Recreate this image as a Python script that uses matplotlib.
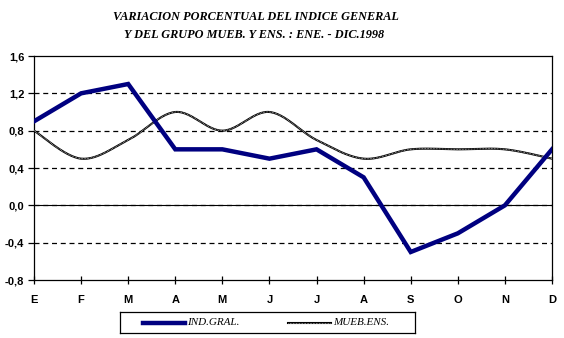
import numpy as np
import matplotlib.pyplot as plt

months = ['E', 'F', 'M', 'A', 'M', 'J', 'J', 'A', 'S', 'O', 'N', 'D']
ind_gral = [0.9, 1.2, 1.3, 0.6, 0.6, 0.5, 0.6, 0.3, -0.5, -0.3, 0.0, 0.6]
mueb_ens = [0.8, 0.5, 0.7, 1.0, 0.8, 1.0, 0.7, 0.5, 0.6, 0.6, 0.6, 0.5]
yticks = [-0.8, -0.4, 0.0, 0.4, 0.8, 1.2, 1.6]
ylabels = ['-0,8', '-0,4', '0,0', '0,4', '0,8', '1,2', '1,6']

navy = '#000080'


def smooth(x, y, n=30):
    # bezier smoothing like the spreadsheet "smoothed line" option
    x = np.asarray(x, float)
    y = np.asarray(y, float)
    px = np.concatenate([[x[0]], x, [x[-1]]])
    py = np.concatenate([[y[0]], y, [y[-1]]])
    xs, ys = [], []
    t = np.linspace(0, 1, n)
    for i in range(len(x) - 1):
        p0 = np.array([px[i + 1], py[i + 1]])
        p3 = np.array([px[i + 2], py[i + 2]])
        c1 = p0 + (np.array([px[i + 2], py[i + 2]]) - np.array([px[i], py[i]])) / 6
        c2 = p3 - (np.array([px[i + 3], py[i + 3]]) - np.array([px[i + 1], py[i + 1]])) / 6
        b = ((1 - t) ** 3)[:, None] * p0 + (3 * (1 - t) ** 2 * t)[:, None] * c1 \
            + (3 * (1 - t) * t ** 2)[:, None] * c2 + (t ** 3)[:, None] * p3
        xs.extend(b[:, 0])
        ys.extend(b[:, 1])
    return np.array(xs), np.array(ys)


fig = plt.figure(figsize=(5.64, 3.38), dpi=100)
ax = fig.add_axes([34 / 564, 1 - 280 / 338, 518 / 564, 224 / 338])

x = np.arange(len(months))
for v in [-0.4, 0.0, 0.4, 0.8, 1.2]:
    ax.axhline(v, color='black', lw=0.9, ls=(0, (4, 3)), zorder=1)
ax.axhline(0.0, color='black', lw=0.8, zorder=1)

sx, sy = smooth(x, mueb_ens)
ax.plot(sx, sy, color='black', lw=1.5, zorder=2)
ax.plot(sx, sy, color='white', lw=0.5, ls=(0, (1, 1.2)), zorder=3)
ax.plot(x, ind_gral, color=navy, lw=3.2, zorder=4, solid_joinstyle='miter')

ax.set_xlim(0, 11)
ax.set_ylim(-0.8, 1.6)
ax.set_xticks(x)
ax.set_xticklabels(months, fontfamily='Liberation Sans', fontweight='bold', fontsize=8)
ax.set_yticks(yticks)
ax.set_yticklabels(ylabels, fontfamily='Liberation Sans', fontweight='bold', fontsize=8)
ax.tick_params(axis='x', direction='inout', length=6, width=0.9, pad=8)
ax.tick_params(axis='y', direction='out', length=4, width=0.9, pad=3)
for s in ax.spines.values():
    s.set_linewidth(0.9)

fig.text(256 / 564, 1 - 17 / 338, 'VARIACION PORCENTUAL DEL INDICE GENERAL',
         ha='center', va='center', fontfamily='Liberation Serif', fontweight='bold',
         fontstyle='italic', fontsize=8.8)
fig.text(254 / 564, 1 - 35 / 338, 'Y DEL GRUPO MUEB. Y ENS. : ENE. - DIC.1998',
         ha='center', va='center', fontfamily='Liberation Serif', fontweight='bold',
         fontstyle='italic', fontsize=8.8)

# legend box
lax = fig.add_axes([120 / 564, 1 - 333 / 338, 295 / 564, 21 / 338])
lax.set_xlim(0, 295)
lax.set_ylim(0, 21)
lax.set_xticks([])
lax.set_yticks([])
for s in lax.spines.values():
    s.set_linewidth(0.9)
lax.plot([23, 65], [10.5, 10.5], color=navy, lw=3.2)
lax.text(67, 10.5, 'IND.GRAL.', va='center', fontfamily='Liberation Serif',
         fontstyle='italic', fontsize=8)
lax.plot([168, 211], [10.5, 10.5], color='black', lw=1.5)
lax.plot([168, 211], [10.5, 10.5], color='white', lw=0.5, ls=(0, (1, 1.2)))
lax.text(213, 10.5, 'MUEB.ENS.', va='center', fontfamily='Liberation Serif',
         fontstyle='italic', fontsize=8)

fig.savefig('out.png', dpi=100)
